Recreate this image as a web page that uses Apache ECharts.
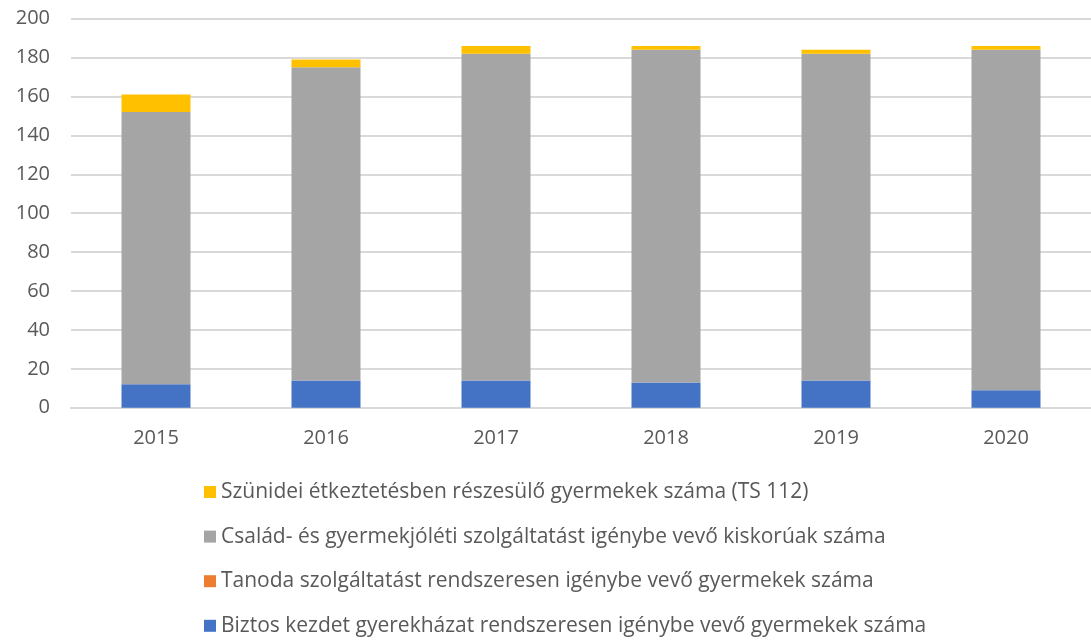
<!DOCTYPE html>
<html>
<head>
<meta charset="utf-8">
<script src="https://cdn.jsdelivr.net/npm/echarts@6/dist/echarts.min.js"></script>
<style>
html,body{margin:0;padding:0;background:#fff;}
#chart{width:1091px;height:643px;}
</style>
</head>
<body>
<div id="chart"></div>
<script>
const years = ['2015','2016','2017','2018','2019','2020'];
const biztosKezdet = [12, 14, 14, 13, 14, 9];
const tanoda = [0, 0, 0, 0, 0, 0];
const csaladGyermekjoleti = [140, 161, 168, 171, 168, 175];
const szunideiEtkeztetes = [9, 4, 4, 2, 2, 2];
const seriesNames = [
  'Biztos kezdet gyerekházat rendszeresen igénybe vevő gyermekek száma',
  'Tanoda szolgáltatást rendszeresen igénybe vevő gyermekek száma',
  'Család- és gyermekjóléti szolgáltatást igénybe vevő kiskorúak száma',
  'Szünidei étkeztetésben részesülő gyermekek száma (TS 112)'
];
const seriesColors = ['#4472C4', '#ED7D31', '#A5A5A5', '#FFC000'];
const seriesData = [biztosKezdet, tanoda, csaladGyermekjoleti, szunideiEtkeztetes];

const font = '"Open Sans", "Liberation Sans", sans-serif';
const chart = echarts.init(document.getElementById('chart'));
chart.setOption({
  animation: false,
  textStyle: { fontFamily: font },
  grid: { left: 71, top: 18.7, width: 1024, bottom: 235.3, containLabel: false },
  legend: {
    orient: 'vertical',
    left: 199,
    top: 475,
    itemWidth: 12,
    itemHeight: 12,
    itemGap: 20.6,
    icon: 'rect',
    data: seriesNames.slice().reverse(),
    textStyle: { fontFamily: font, fontSize: 21, color: '#595959', lineHeight: 24 }
  },
  xAxis: {
    type: 'category',
    data: years,
    axisLine: { show: true, lineStyle: { color: '#D9D9D9', width: 2 } },
    axisTick: { show: false },
    axisLabel: { color: '#595959', fontSize: 20, margin: 21, fontFamily: font }
  },
  yAxis: {
    type: 'value',
    min: 0,
    max: 200,
    interval: 20,
    axisLine: { show: false },
    axisTick: { show: false },
    splitLine: { lineStyle: { color: '#D9D9D9', width: 2 } },
    axisLabel: { color: '#595959', fontSize: 20, margin: 21, fontFamily: font }
  },
  series: seriesNames.map((n, i) => ({
    name: n,
    type: 'bar',
    stack: 'total',
    barWidth: 69,
    itemStyle: { color: seriesColors[i] },
    data: seriesData[i]
  }))
});
</script>
</body>
</html>
